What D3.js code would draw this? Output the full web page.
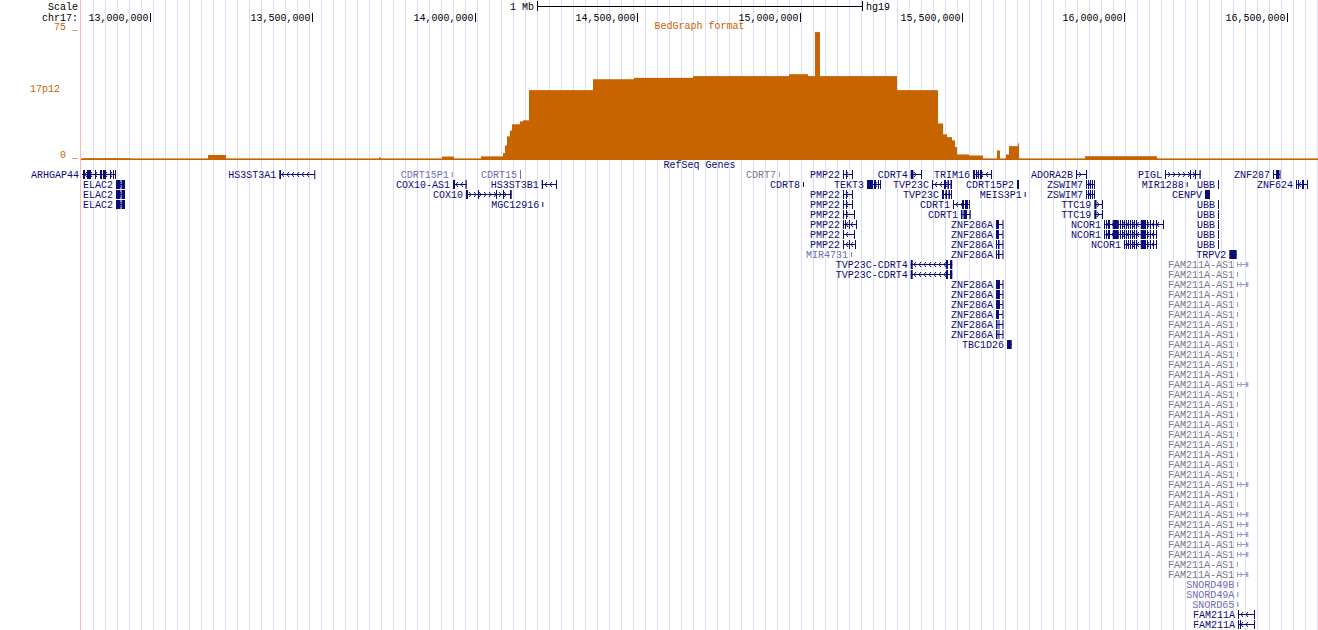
<!DOCTYPE html>
<html><head><meta charset="utf-8">
<script src="https://cdn.jsdelivr.net/npm/d3@7"></script>
<style>
html,body{margin:0;padding:0;background:#fff;overflow:hidden;}
text{font-family:"Liberation Mono","DejaVu Sans Mono",monospace;font-size:10px;}
</style></head><body>
<svg id="c" width="1318" height="630"></svg>
<script>
// ---------- data ----------
const chrom = "chr17";
const assembly = "hg19";
const viewStartKb = 12787.8, viewEndKb = 16596.0;
const rulerTicks = [13000000,13500000,14000000,14500000,15000000,15500000,16000000,16500000];
const bedTrackName = "BedGraph format";
const bedBand = "17p12";
const bedMax = 75;
// bedGraph segments (kb) and values
const bedStartsKb = [12794.0,13178.8,13705.2,13899.2,14019.2,14086.9,14093.1,14099.2,14108.5,14114.7,14139.3,14148.5,14167.0,14364.0,14490.2,14671.9,14967.4,15025.9,15047.4,15062.8,15299.9,15426.1,15441.5,15453.8,15469.2,15478.4,15484.6,15521.5,15607.7,15635.4,15644.7,15672.4,15878.7];
const bedEndsKb   = [12938.7,13234.2,13711.4,13936.1,14086.9,14093.1,14099.2,14108.5,14114.7,14139.3,14148.5,14167.0,14364.0,14490.2,14671.9,14967.4,15025.9,15047.4,15062.8,15299.9,15426.1,15441.5,15453.8,15469.2,15478.4,15484.6,15521.5,15564.6,15616.9,15644.7,15672.4,15675.5,16100.3];
const bedValues   = [1.0,2.9,1.5,2.0,2.1,4.0,8.4,13.6,17.0,20.6,22.3,22.9,40.3,46.6,47.4,48.4,49.5,48.4,73.8,48.4,40.3,21.1,14.8,13.2,11.3,7.6,3.2,2.6,5.5,3.2,8.0,9.6,2.2];

const geneTrackName = "RefSeq Genes";
const ncorExons = [[15937.2,15940.3],[15943.4,15946.4],[15949.5,15955.7],[15964.0,15982.5],[15986.5,15989.6],[15992.6,15995.7],[15998.8,16001.9],[16004.9,16008.0],[16011.1,16014.2],[16017.3,16020.3],[16023.4,16026.5],[16029.6,16032.7],[16035.7,16038.8],[16050.2,16066.5],[16069.6,16072.7],[16078.8,16081.9],[16088.0,16091.1],[16097.3,16100.3],[16118.8,16121.9]];
const pmpA = [[15133.6,15136.6],[15142.8,15145.9],[15161.3,15164.4]];
const znfA = [[15604.6,15613.9],[15624.7,15626.2]];
const znfB = [[15604.6,15607.7],[15610.8,15615.4],[15624.7,15626.2]];
const znfC = [[15604.6,15616.9],[15624.7,15626.2]];
const znfD = [[15604.6,15609.2],[15612.3,15615.4],[15624.7,15626.2]];
const elacEx = [[12895.5,12909.4],[12912.5,12923.3]];
const zswEx = [[15881.8,15884.8],[15887.9,15891.0],[15894.1,15897.1],[15900.2,15903.3],[15906.3,15909.4]];
const ttcEx = [[15907.3,15914.1],[15931.0,15934.1]];
const tvpcEx = [[15342.0,15348.3],[15450.8,15457.0],[15463.1,15470.2]];

const geneNames  = [];
const geneRows   = [];
const geneStarts = [];
const geneEnds   = [];
const geneStrands= [];
const geneExons  = [];
const geneKinds  = [];
function g(name,row,s,e,strand,exons,kind){geneNames.push(name);geneRows.push(row);geneStarts.push(s);geneEnds.push(e);geneStrands.push(strand);geneExons.push(exons);geneKinds.push(kind);}
g("ARHGAP44",0,12790.9,12895.5,"-",[[12794.0,12800.1],[12806.3,12818.6],[12830.9,12834.0],[12846.3,12852.5],[12855.5,12864.8],[12877.1,12880.2],[12886.3,12889.4],[12892.5,12895.5]],"rev");
g("ELAC2",1,12895.5,12923.3,"-",elacEx,"rev");
g("ELAC2",2,12895.5,12923.3,"-",elacEx,"rev");
g("ELAC2",3,12895.5,12923.3,"-",elacEx,"rev");
g("HS3ST3A1",0,13398.3,13508.2,"-",[[13398.3,13403.5],[13506.0,13508.2]],"rev");
g("CDRT15P1",0,13929.0,13931.5,"+",[[13929.0,13931.5]],"predThin");
g("CDRT15",0,14139.3,14142.3,"+",[[14139.3,14142.3]],"pred");
g("COX10-AS1",1,13933.0,13975.2,"-",[[13933.0,13939.2],[13971.5,13975.2]],"rev");
g("COX10",2,13973.0,14113.7,"+",[[13973.0,13979.2],[14010.0,14013.0],[14065.4,14068.5],[14086.9,14090.0],[14108.5,14113.7]],"rev");
g("HS3ST3B1",1,14206.1,14252.2,"-",[[14206.1,14210.1],[14250.1,14252.2]],"rev");
g("MGC12916",3,14207.9,14211.0,"+",[[14207.9,14211.0]],"revThin");
g("CDRT7",0,14936.6,14939.7,"+",[[14936.6,14939.7]],"grayThin");
g("CDRT8",1,15010.5,15013.5,"+",[[15010.5,15013.5]],"revThin");
g("PMP22",0,15133.6,15164.4,"-",pmpA,"rev");
g("PMP22",2,15133.6,15164.4,"-",pmpA,"rev");
g("PMP22",3,15133.6,15164.4,"-",pmpA,"rev");
g("PMP22",4,15133.6,15170.6,"-",[[15133.6,15136.6],[15142.8,15145.9],[15167.5,15170.6]],"rev");
g("PMP22",5,15133.6,15176.7,"-",[[15133.6,15136.6],[15139.7,15142.8],[15151.9,15155.0],[15173.6,15176.7]],"rev");
g("PMP22",6,15133.6,15170.6,"-",[[15133.6,15136.6],[15167.5,15170.6]],"rev");
g("PMP22",7,15133.6,15173.6,"-",[[15133.6,15136.6],[15151.9,15155.0],[15170.6,15173.6]],"rev");
g("MIR4731",8,15158.3,15161.3,"+",[[15158.3,15161.3]],"predThin");
g("TEKT3",1,15207.5,15250.6,"-",[[15207.5,15225.9],[15229.0,15235.2],[15241.3,15244.4],[15247.5,15250.6]],"rev");
g("CDRT4",0,15342.0,15375.9,"+",[[15342.0,15350.6],[15373.8,15375.9]],"rev");
g("TVP23C",1,15407.6,15469.2,"-",[[15407.6,15410.7],[15444.5,15450.7],[15455.3,15459.9],[15464.5,15469.2]],"rev");
g("TVP23C",2,15438.4,15469.2,"-",[[15438.4,15444.5],[15449.1,15453.8],[15458.4,15463.0],[15466.1,15469.2]],"rev");
g("TVP23C-CDRT4",9,15342.0,15470.2,"-",tvpcEx,"rev");
g("TVP23C-CDRT4",10,15342.0,15470.2,"-",tvpcEx,"rev");
g("TRIM16",0,15534.0,15592.3,"-",[[15534.0,15540.2],[15543.2,15546.3],[15549.4,15552.5],[15555.5,15561.7],[15589.2,15592.3]],"rev");
g("CDRT1",3,15472.3,15524.6,"-",[[15472.3,15475.3],[15500.0,15506.1],[15509.2,15518.4],[15521.5,15524.6]],"rev");
g("CDRT1",4,15496.7,15526.8,"-",[[15496.7,15501.5],[15504.5,15515.3],[15523.0,15526.8]],"rev");
g("CDRT15P2",1,15669.3,15675.5,"+",[[15669.3,15675.5]],"rev");
g("MEIS3P1",2,15693.0,15695.5,"+",[[15693.0,15695.5]],"revThin");
g("ZNF286A",5,15604.6,15626.2,"+",znfA,"rev");
g("ZNF286A",6,15604.6,15626.2,"+",znfA,"rev");
g("ZNF286A",7,15604.6,15626.2,"+",znfB,"rev");
g("ZNF286A",8,15604.6,15626.2,"+",znfB,"rev");
g("ZNF286A",11,15604.6,15626.2,"+",znfC,"rev");
g("ZNF286A",12,15604.6,15626.2,"+",znfC,"rev");
g("ZNF286A",13,15604.6,15626.2,"+",znfC,"rev");
g("ZNF286A",14,15604.6,15626.2,"+",znfA,"rev");
g("ZNF286A",15,15604.6,15626.2,"+",znfD,"rev");
g("ZNF286A",16,15604.6,15626.2,"+",znfD,"rev");
g("TBC1D26",17,15638.5,15653.0,"+",[[15638.5,15653.0]],"rev");
g("ADORA2B",0,15851.0,15883.9,"+",[[15851.0,15854.1],[15881.8,15883.9]],"rev");
g("ZSWIM7",1,15881.8,15909.4,"-",zswEx,"rev");
g("ZSWIM7",2,15881.8,15909.4,"-",zswEx,"rev");
g("TTC19",3,15907.3,15934.1,"+",ttcEx,"rev");
g("TTC19",4,15907.3,15934.1,"+",ttcEx,"rev");
g("NCOR1",5,15937.2,16121.9,"-",ncorExons,"rev");
g("NCOR1",6,15937.2,16100.3,"-",ncorExons.slice(0,18),"rev");
g("NCOR1",7,15998.8,16100.3,"-",ncorExons.slice(6,18),"rev");
g("PIGL",0,16125.0,16234.9,"+",[[16125.0,16128.1],[16201.9,16205.0],[16217.3,16220.4],[16231.2,16234.9]],"rev");
g("MIR1288",1,16191.8,16194.3,"+",[[16191.8,16194.3]],"revThin");
[1,3,4,5,6,7].forEach(r=>g("UBB",r,16288.1,16289.2,"-",[[16288.1,16289.2]],"rev"));
g("CENPV",2,16248.1,16263.5,"-",[[16248.1,16263.5]],"rev");
g("TRPV2",8,16323.0,16345.7,"+",[[16323.0,16345.7]],"rev");
g("ZNF287",0,16457.5,16479.0,"-",[[16457.5,16460.6],[16466.7,16476.0],[16477.5,16479.0]],"rev");
g("ZNF624",1,16528.3,16564.3,"-",[[16528.3,16531.4],[16534.5,16537.5],[16546.8,16552.9],[16562.2,16564.3]],"rev");
// FAM211A-AS1 isoforms, rows 9..40: L = spliced isoform, S = single-exon
const famAS1Forms = "LSL"+"SSSSSSSSS"+"L"+"SSSSSSSSS"+"L"+"SS"+"LLLLL"+"SL";
famAS1Forms.split("").forEach((f,i)=>{
  if(f==="L") g("FAM211A-AS1",9+i,16346.6,16380.5,"+",[[16346.6,16347.6],[16374.3,16375.3],[16378.4,16380.5]],"grayThin");
  else g("FAM211A-AS1",9+i,16346.6,16347.6,"+",[[16346.6,16347.6]],"grayThin");
});
g("SNORD49B",41,16347.5,16348.5,"+",[[16347.5,16348.5]],"predThin");
g("SNORD49A",42,16347.5,16348.5,"+",[[16347.5,16348.5]],"predThin");
g("SNORD65",43,16347.5,16348.5,"+",[[16347.5,16348.5]],"predThin");
g("FAM211A",44,16349.7,16402.0,"-",[[16349.7,16352.8],[16399.0,16402.0]],"rev");
g("FAM211A",45,16349.7,16402.0,"-",[[16349.7,16352.8],[16355.8,16358.9],[16399.0,16402.0]],"rev");

// ---------- drawing ----------
const W = 1318, H = 630;
const svg = d3.select("#c");
const x = d3.scaleLinear().domain([viewStartKb*1000, viewEndKb*1000]).range([81, W]);
const y = d3.scaleLinear().domain([0, bedMax]).range([160, 30]);
const orange = "#c86400";
const kindStyle = {
  rev:{text:"#0c0c78",fill:"#0c0c78",thin:false},
  revThin:{text:"#0c0c78",fill:"#0c0c78",thin:true},
  pred:{text:"#6e6eb4",fill:"#6e6eb4",thin:false},
  predThin:{text:"#6e6eb4",fill:"#8080c0",thin:true},
  grayThin:{text:"#787888",fill:"#9c9cd0",thin:true}
};

// guidelines
const grid = svg.append("g");
for (let gx = 93; gx < W; gx += 12) grid.append("rect").attr("x",gx).attr("y",0).attr("width",1).attr("height",H).attr("fill","#dedcf6");
svg.append("rect").attr("x",80).attr("y",0).attr("width",1).attr("height",H).attr("fill","#ffb6b6");

// ruler
const fmt = d3.format(",");
svg.append("text").attr("x",78).attr("y",10).attr("text-anchor","end").text("Scale");
svg.append("text").attr("x",78).attr("y",21).attr("text-anchor","end").text(chrom+":");
const center = (viewStartKb+viewEndKb)*500;
const sb0 = x(center-500000), sb1 = x(center+500000);
svg.append("text").attr("x",sb0-3).attr("y",10).attr("text-anchor","end").text("1 Mb");
svg.append("line").attr("x1",sb0).attr("x2",sb1).attr("y1",6.5).attr("y2",6.5).attr("stroke","#000");
[sb0,sb1].forEach(v=>svg.append("line").attr("x1",Math.round(v)+0.5).attr("x2",Math.round(v)+0.5).attr("y1",1).attr("y2",11).attr("stroke","#000"));
svg.append("text").attr("x",sb1+4).attr("y",10).text(assembly);
rulerTicks.forEach(t=>{
  const tx = Math.round(x(t))+0.5;
  svg.append("line").attr("x1",tx).attr("x2",tx).attr("y1",13).attr("y2",22).attr("stroke","#000");
  svg.append("text").attr("x",tx-2).attr("y",21).attr("text-anchor","end").text(fmt(t));
});

// bedGraph track
svg.append("text").attr("x",699.5).attr("y",28.5).attr("text-anchor","middle").attr("fill",orange).text(bedTrackName);
svg.append("text").attr("x",78).attr("y",30).attr("text-anchor","end").attr("fill",orange).text(bedMax+" _");
svg.append("text").attr("x",78).attr("y",158).attr("text-anchor","end").attr("fill",orange).text("0 _");
svg.append("text").attr("x",30).attr("y",92).attr("fill",orange).text(bedBand);
svg.append("rect").attr("x",81).attr("y",158.4).attr("width",W-81).attr("height",1.6).attr("fill",orange);
svg.append("g").selectAll("rect").data(bedValues).join("rect")
  .attr("x",(d,i)=>x(bedStartsKb[i]*1000))
  .attr("width",(d,i)=>Math.max(1,x(bedEndsKb[i]*1000)-x(bedStartsKb[i]*1000)))
  .attr("y",d=>y(d)).attr("height",d=>y(0)-y(d)).attr("fill",orange);

// gene track
svg.append("text").attr("x",699.5).attr("y",168).attr("text-anchor","middle").attr("fill","#0c0c78").text(geneTrackName);
const gg = svg.append("g");
geneNames.forEach((name,i)=>{
  const st = kindStyle[geneKinds[i]];
  const cy = 174 + 10*geneRows[i];
  const x0 = x(geneStarts[i]*1000), x1 = x(geneEnds[i]*1000);
  const gEl = gg.append("g");
  if (x1-x0 > 2) {
    gEl.append("rect").attr("x",x0).attr("y",cy).attr("width",x1-x0).attr("height",1).attr("fill",st.fill);
    for (let px = Math.round(x0)+4; px < x1-3; px += 5) {
      const d = geneStrands[i]==="+" ? `M${px-1},${cy-2} L${px+1},${cy+0.5} L${px-1},${cy+3}` : `M${px+1},${cy-2} L${px-1},${cy+0.5} L${px+1},${cy+3}`;
      gEl.append("path").attr("d",d).attr("fill","none").attr("stroke",st.fill).attr("stroke-width",1);
    }
  }
  geneExons[i].forEach(e=>{
    const ex0 = x(e[0]*1000), ex1 = x(e[1]*1000);
    gEl.append("rect").attr("x",ex0).attr("width",Math.max(1,ex1-ex0))
      .attr("y",st.thin?cy-2:cy-4).attr("height",st.thin?5:9).attr("fill",st.fill);
  });
  gEl.append("text").attr("x",x0-3).attr("y",cy+3.5).attr("text-anchor","end").attr("fill",st.text).text(name);
});
</script>
</body></html>
